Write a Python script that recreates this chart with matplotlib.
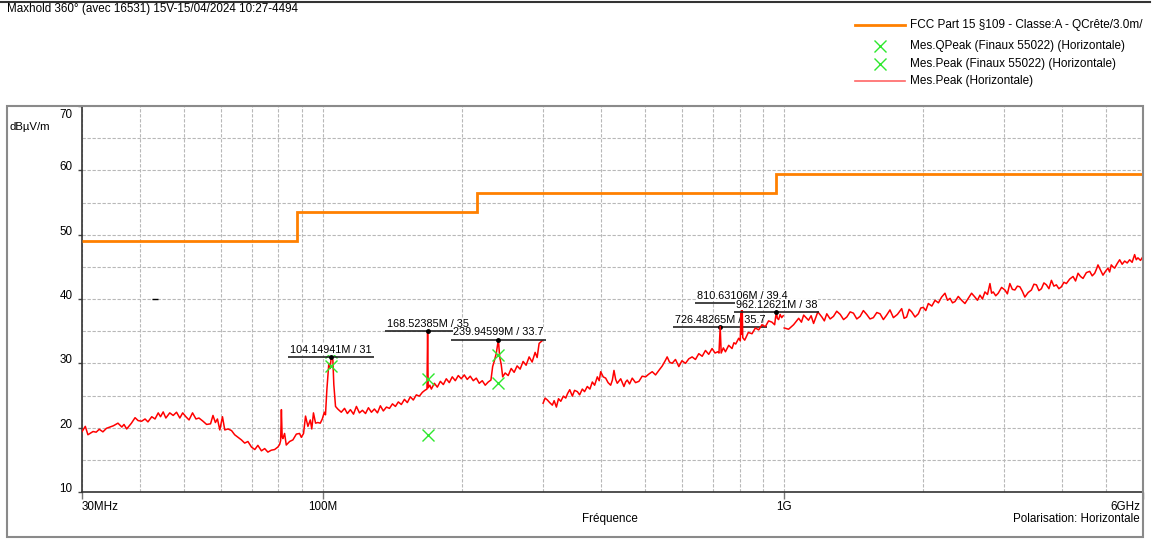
import numpy as np
import matplotlib.pyplot as plt
from matplotlib.lines import Line2D
from matplotlib.patches import Rectangle
from matplotlib.ticker import FixedLocator, MultipleLocator, NullFormatter
from matplotlib.transforms import ScaledTranslation

plt.rcParams['font.family'] = ['Liberation Sans', 'DejaVu Sans']

# Limite FCC Part 15 classe A (3 m)
lim_freq = [30, 88, 216, 960, 6000]
lim_niv = [49.0, 53.5, 56.5, 59.5]

# Balayage peak 30-300 MHz
f_bas = [30.0, 30.5, 30.9, 31.7, 32.2, 32.7, 33.3, 33.9, 35.1, 35.9, 36.6, 37.0, 37.5, 38.4,
         39.1, 39.7, 40.4, 41.1, 41.7, 42.5, 43.2, 43.9, 44.4, 45.0, 45.6, 46.5, 47.3, 48.1,
         48.9, 49.6, 50.4, 51.2, 52.1, 53.0, 53.8, 54.9, 55.9, 57.0, 57.7, 58.4, 59.0, 59.7,
         60.5, 61.2, 62.2, 63.3, 64.3, 65.4, 66.5, 67.6, 68.7, 69.9, 71.1, 72.2, 73.5, 74.7,
         75.9, 77.2, 78.5, 79.8, 80.5, 80.9, 81.2, 81.5, 81.8, 82.5, 83.2, 84.6, 86.0, 87.5,
         88.9, 89.7, 90.7, 91.6, 92.7, 93.8, 94.5, 95.3, 96.3, 97.4, 98.6, 99.6, 100.6, 101.2,
         101.9, 102.9, 103.6, 104.15, 105.0, 105.5, 106.4, 107.6, 109.5, 111.3, 112.9, 114.6,
         116.4, 118.1, 119.9, 121.7, 123.6, 125.4, 127.3, 129.2, 131.2, 133.1, 135.1, 137.2,
         139.3, 141.4, 143.5, 145.6, 147.8, 150.1, 152.3, 154.6, 156.9, 159.3, 161.7, 164.2,
         166.2, 168.0, 168.52, 169.0, 170.4, 171.7, 174.3, 176.9, 179.6, 182.3, 185.0, 187.8,
         190.6, 193.5, 196.4, 199.4, 202.4, 205.4, 208.5, 211.7, 214.9, 218.1, 221.4, 224.7,
         228.1, 231.2, 233.2, 235.0, 237.4, 239.95, 241.5, 243.4, 245.2, 248.2, 252.0, 255.8,
         259.6, 263.5, 267.5, 271.5, 275.6, 279.8, 284.0, 288.3, 291.2, 294.1, 298.5]
n_bas = [19.4, 20.2, 18.9, 19.4, 19.3, 19.75, 19.35, 19.9, 20.3, 20.7, 20.1, 20.5, 19.8, 20.7,
         21.55, 21.1, 21.0, 21.35, 20.9, 21.7, 21.35, 22.3, 21.7, 22.45, 21.5, 22.3, 21.9, 22.4,
         21.5, 22.3, 21.7, 21.2, 22.3, 21.35, 21.5, 21.0, 20.5, 20.6, 21.9, 20.8, 21.35, 19.65,
         21.7, 19.65, 19.8, 19.55, 18.9, 18.5, 18.1, 17.6, 17.85, 17.0, 16.6, 17.25, 16.4, 16.75,
         16.2, 16.5, 16.6, 17.0, 17.4, 18.0, 22.8, 18.6, 18.3, 19.1, 17.3, 17.85, 18.1, 19.0,
         19.1, 18.5, 19.1, 21.8, 20.2, 21.2, 19.8, 22.3, 20.7, 20.8, 20.7, 21.35, 22.4, 22.0,
         25.9, 30.0, 29.2, 31.0, 30.5, 26.7, 23.3, 22.9, 22.4, 23.0, 22.2, 22.8,
         22.1, 23.3, 22.3, 22.7, 22.2, 23.1, 22.4, 22.9, 22.3, 23.4, 22.6, 23.2,
         23.0, 23.7, 23.3, 24.0, 23.6, 24.4, 23.9, 24.8, 24.3, 25.1, 24.9, 25.5,
         25.8, 26.0, 35.0, 26.2, 26.6, 26.0, 26.9, 26.3, 27.2, 26.7, 27.6, 27.0,
         27.9, 27.3, 28.1, 27.6, 28.2, 27.5, 28.0, 27.3, 27.7, 26.9, 27.3, 26.6,
         27.1, 27.4, 29.5, 30.3, 31.5, 33.7, 31.0, 29.8, 27.9, 28.5, 28.1, 29.2,
         28.6, 29.6, 29.1, 30.3, 29.7, 31.0, 30.2, 31.7, 30.9, 33.1, 33.5]

# Balayage peak 300 MHz-1 GHz
f_mil = [300, 303, 306.5, 310, 314.2, 317, 320.6, 324, 327.7, 332, 335.9, 339, 342.7, 347.2,
         351, 356.0, 360, 364.9, 369, 374.1, 379, 383.6, 388, 393.3, 397, 400.0, 405, 410.0,
         415, 420.4, 424, 427.4, 431, 434.5, 442, 449.2, 453, 456.7, 462, 468.2, 476, 484.1,
         492, 500.5, 508, 517.3, 526, 534.8, 544, 552.9, 557.4, 564, 571.5, 581, 590.9, 600,
         610.9, 621, 631.4, 642, 652.8, 664, 674.9, 686, 697.5, 708, 717.7, 722, 726.48, 730,
         738, 745.7, 758, 770.6, 778, 785, 796.8, 803, 806, 808, 810.63, 813, 821, 836, 851.4,
         866, 880.3, 895, 910.2, 925, 940.6, 953.4, 958, 962.13, 966, 972.6, 980, 987.3, 995]
n_mil = [23.8, 24.6, 24.3, 23.9, 23.5, 24.2, 23.2, 24.5, 24.1, 24.9, 24.6, 25.3, 25.9, 24.9,
         25.8, 25.6, 25.1, 26.0, 25.6, 26.4, 26.0, 27.1, 26.6, 27.9, 27.3, 28.7, 27.9, 27.7,
         27.0, 26.6, 27.4, 28.9, 27.5, 26.9, 27.6, 26.4, 27.1, 27.4, 26.8, 27.7, 27.0, 27.2,
         28.0, 27.9, 28.3, 28.7, 28.2, 28.9, 29.6, 30.5, 31.0, 30.2, 30.0, 30.6, 29.5, 30.4,
         30.0, 30.7, 31.0, 30.6, 31.5, 31.1, 32.0, 31.4, 32.3, 31.6, 31.8, 31.6, 35.7, 31.6,
         32.4, 31.8, 32.8, 32.3, 33.2, 33.0, 33.9, 33.5, 37.8, 34.5, 39.4, 34.0, 33.6, 34.8, 34.6,
         35.5, 35.2, 36.0, 35.7, 36.6, 36.4, 36.0, 37.2, 38.0, 37.0, 36.8, 37.6, 37.1, 37.4]

# Balayage peak 1-6 GHz
f_haut = [1000, 1022, 1048, 1075, 1090, 1102, 1129, 1144, 1158, 1183, 1207, 1222, 1237, 1258,
          1279, 1300, 1323, 1345, 1367, 1390, 1413, 1437, 1461, 1485, 1510, 1535, 1561, 1588,
          1614, 1641, 1668, 1696, 1725, 1760, 1798, 1820, 1843, 1866, 1890, 1922, 1954, 1978,
          2003, 2028, 2054, 2090, 2124, 2160, 2195, 2232, 2260, 2289, 2318, 2346, 2385, 2425,
          2466, 2507, 2549, 2592, 2625, 2658, 2691, 2725, 2760, 2794, 2817, 2840, 2876, 2912,
          2961, 3011, 3048, 3086, 3125, 3164, 3204, 3244, 3285, 3326, 3381, 3437, 3480, 3524,
          3568, 3613, 3658, 3704, 3751, 3798, 3845, 3893, 3942, 3992, 4042, 4092, 4161, 4231,
          4284, 4338, 4392, 4447, 4522, 4598, 4656, 4714, 4753, 4792, 4852, 4913, 4975, 5037,
          5079, 5121, 5164, 5208, 5274, 5340, 5407, 5475, 5544, 5613, 5683, 5754, 5802, 5850,
          5925, 6000]
n_haut = [35.5, 35.3, 36.0, 37.0, 36.4, 37.5, 36.7, 37.4, 36.2, 38.0, 37.2, 36.6, 37.7, 36.9,
          37.3, 38.1, 37.6, 36.8, 37.2, 38.0, 37.8, 36.9, 37.3, 38.2, 37.6, 36.9, 37.1, 37.9,
          37.7, 36.8, 37.5, 38.3, 37.1, 37.6, 38.5, 37.0, 37.2, 38.4, 38.0, 37.2, 37.7, 38.6,
          38.7, 38.2, 39.3, 38.9, 39.8, 39.4, 40.3, 40.9, 39.8, 40.1, 39.4, 39.6, 40.4, 39.8,
          39.3, 40.1, 40.9, 40.3, 39.8, 40.6, 40.0, 41.1, 40.7, 42.4, 40.9, 41.1, 40.5, 40.9,
          41.8, 41.4, 40.8, 42.4, 41.5, 41.4, 42.0, 41.9, 41.2, 40.3, 41.0, 41.4, 42.3, 42.2,
          41.3, 41.6, 42.5, 42.2, 41.6, 42.9, 42.0, 42.2, 41.6, 41.9, 42.6, 42.4, 43.1, 43.5,
          42.8, 44.0, 43.5, 43.2, 44.1, 44.3, 43.6, 44.0, 44.6, 45.3, 44.5, 43.7, 44.3, 44.8,
          44.2, 45.3, 45.0, 44.8, 45.5, 46.1, 45.4, 45.9, 45.6, 46.1, 45.7, 46.9, 46.1, 46.4,
          46.0, 46.6]

# Mesures finales
fin_freq = [104.15, 168.52, 239.95]
fin_peak = [31.8, 27.6, 31.3]
fin_qpeak = [29.6, 18.8, 26.9]

# Marqueurs de crête
mk_freq = [104.14941, 168.52385, 239.94599, 726.48265, 810.63106, 962.12621]
mk_niv = [31.0, 35.0, 33.7, 35.7, 39.4, 38.0]
mk_txt = ['104.14941M / 31', '168.52385M / 35', '239.94599M / 33.7',
          '726.48265M / 35.7', '810.63106M / 39.4', '962.12621M / 38']

ORANGE = '#ff8000'
VERT = '#2ee82e'
ROUGE = '#ff0000'

fig = plt.figure(figsize=(11.52, 5.4), dpi=100)
W, H = 1152, 540
ax = fig.add_axes([82 / W, 1 - 492 / H, (1143 - 82) / W, (492 - 106) / H])

ax.stairs(lim_niv, lim_freq, baseline=None, color=ORANGE, lw=2, zorder=3)
for f, n in [(f_bas, n_bas), (f_mil, n_mil), (f_haut, n_haut)]:
    ax.plot(f, n, color=ROUGE, lw=1.1, zorder=4)
ax.plot(fin_freq, fin_qpeak, 'x', color=VERT, ms=8, mew=1, zorder=6)
ax.plot(fin_freq, fin_peak, 'x', color=VERT, ms=8, mew=1, zorder=6)
ax.plot([43.2], [40.0], marker='_', color='k', ms=4, mew=1)

ax.set_xscale('log')
ax.set_xlim(30, 6000)
ax.set_ylim(10, 70)

ax.set_xticks([30, 100, 1000, 6000], ['30MHz', '100M', '1G', '6GHz'])
ax.xaxis.set_minor_locator(FixedLocator([40, 50, 60, 70, 80, 90, 200, 300, 400, 500, 600, 700,
                                         800, 900, 2000, 3000, 4000, 5000]))
ax.xaxis.set_minor_formatter(NullFormatter())
ax.set_yticks(np.arange(10, 71, 10))
ax.yaxis.set_minor_locator(MultipleLocator(5))
ax.tick_params(axis='both', which='minor', length=0)
ax.tick_params(axis='x', which='major', length=5, width=1, color='#777777', pad=1.5, labelsize=8.4)
ax.tick_params(axis='y', which='major', length=3, width=1, color='#444444', pad=4, labelsize=8.4)
labs = ax.get_xticklabels()
labs[0].set_ha('left')
labs[-1].set_ha('right')
labs[-1].set_transform(labs[-1].get_transform() + ScaledTranslation(-3 / 100, 0, fig.dpi_scale_trans))
for lab in ax.get_yticklabels():
    lab.set_va('baseline')
haut = ax.get_yticklabels()[-1]
haut.set_va('top')
haut.set_transform(haut.get_transform() + ScaledTranslation(0, -3 / 100, fig.dpi_scale_trans))

ax.grid(True, which='both', color='#b8b8b8', ls=(0, (3, 1.5)), lw=0.8)
ax.set_axisbelow(True)
for sp in ax.spines.values():
    sp.set_color('#333333')
    sp.set_linewidth(1.2)

# Etiquettes des marqueurs avec soulignement
fig.canvas.draw()
rend = fig.canvas.get_renderer()
inv = ax.transData.inverted()
for i, (f, n, t) in enumerate(zip(mk_freq, mk_niv, mk_txt)):
    z = 3.5 if i == 3 else 7 + i
    txt = ax.annotate(t, (f, n), xytext=(0, 1.5), textcoords='offset points',
                      ha='center', va='bottom', fontsize=7.8, zorder=z,
                      bbox=dict(boxstyle='square,pad=0.05', fc='white', ec='none') if i != 3 else None)
    bb = txt.get_window_extent(rend)
    x0 = inv.transform((bb.x0 - 2, 0))[0]
    x1 = inv.transform((bb.x1 + 2, 0))[0]
    ax.plot([x0, x1], [n, n], color='#222222', lw=1.2, zorder=z, solid_capstyle='butt')
    ax.plot([f], [n], 'o', color='k', ms=2.5, zorder=z)

# Cadre et textes
fig.add_artist(Rectangle((7 / W, 3 / H), (1143 - 7) / W, (537 - 106) / H,
                         transform=fig.transFigure, fill=False, ec='#8a8a8a', lw=1.5))
fig.add_artist(Line2D([0, 1150 / W], [1 - 1.5 / H, 1 - 1.5 / H], transform=fig.transFigure,
                      color='#333333', lw=1.5))
fig.text(7 / W, 1 - 9 / H, 'Maxhold 360° (avec 16531) 15V-15/04/2024 10:27-4494',
         fontsize=8.4, va='center', ha='left')
fig.text(10 / W, 1 - 127 / H, 'dBµV/m', fontsize=8.2, va='center', ha='left')
fig.text(610 / W, 1 - 519 / H, 'Fréquence', fontsize=8.4, va='center', ha='center')
fig.text(1140 / W, 1 - 519 / H, 'Polarisation: Horizontale', fontsize=8.4, va='center', ha='right')

# Légende
leg = [('line', ORANGE, 'FCC Part 15 §109 - Classe:A - QCrête/3.0m/', 25),
       ('x', VERT, 'Mes.QPeak (Finaux 55022) (Horizontale)', 46),
       ('x', VERT, 'Mes.Peak (Finaux 55022) (Horizontale)', 64),
       ('line', '#ff6666', 'Mes.Peak (Horizontale)', 81)]
for kind, c, lab, y in leg:
    yy = 1 - y / H
    if kind == 'line':
        fig.add_artist(Line2D([855 / W, 905 / W], [yy, yy], transform=fig.transFigure,
                              color=c, lw=2 if c == ORANGE else 1.2))
    else:
        fig.add_artist(Line2D([880 / W], [yy], transform=fig.transFigure, marker='x',
                              color=c, ms=8, mew=1, ls='none'))
    fig.text(910 / W, yy, lab, fontsize=8.5, va='center', ha='left')

fig.savefig('out.png', dpi=100)
